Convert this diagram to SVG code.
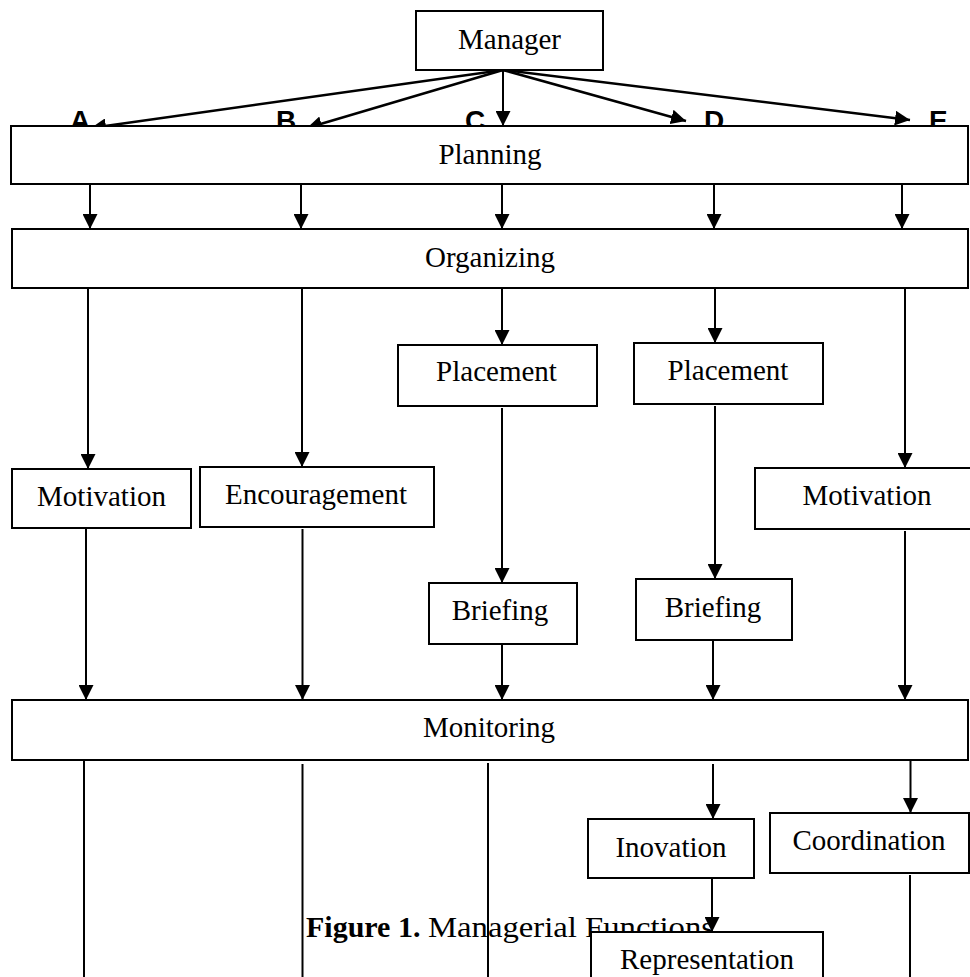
<svg xmlns="http://www.w3.org/2000/svg" width="970" height="977" viewBox="0 0 970 977">
<defs>
<marker id="ah" markerUnits="userSpaceOnUse" markerWidth="15" markerHeight="15" refX="15" refY="7.5" orient="auto">
<path d="M0,0 L15,7.5 L0,15 Z" fill="#000"/>
</marker>
<style>
.box{fill:#fff;stroke:#000;stroke-width:2}
.lbl{font-family:"Liberation Serif","Times New Roman",serif;font-size:29px;fill:#000;text-anchor:middle}
.let{font-family:"Liberation Sans",Arial,sans-serif;font-size:28px;font-weight:bold;fill:#000}
.c{stroke:#000;stroke-width:2;fill:none}
.a{stroke:#000;stroke-width:2;fill:none;marker-end:url(#ah)}
.d{stroke:#000;stroke-width:2.5;fill:none;marker-end:url(#ah)}
</style>
</defs>
<rect width="970" height="977" fill="#fff"/>
<g id="letters">
<text class="let" x="70" y="130">A</text>
<text class="let" x="276" y="130">B</text>
<text class="let" x="465" y="130">C</text>
<text class="let" x="704" y="130">D</text>
<text class="let" x="929" y="130">E</text>
</g>
<g id="caption">
<text x="306" y="937" font-family="'Liberation Serif','Times New Roman',serif" font-size="30" font-weight="bold" fill="#000">Figure 1.</text>
<text x="428" y="937" font-family="'Liberation Serif','Times New Roman',serif" font-size="30" fill="#000" textLength="286" lengthAdjust="spacingAndGlyphs">Managerial Functions</text>
</g>
<g id="connectors">
<line class="d" x1="503" y1="70" x2="91" y2="128"/>
<line class="d" x1="503" y1="70" x2="307" y2="128"/>
<line class="a" x1="503" y1="70" x2="503" y2="126"/>
<line class="d" x1="503" y1="70" x2="686" y2="121"/>
<line class="d" x1="503" y1="70" x2="910" y2="120"/>
<line class="a" x1="90" y1="184" x2="90" y2="229"/>
<line class="a" x1="301" y1="184" x2="301" y2="229"/>
<line class="a" x1="502" y1="184" x2="502" y2="229"/>
<line class="a" x1="714" y1="184" x2="714" y2="229"/>
<line class="a" x1="902" y1="184" x2="902" y2="229"/>
<line class="a" x1="88" y1="288" x2="88" y2="469"/>
<line class="a" x1="302" y1="288" x2="302" y2="467"/>
<line class="a" x1="502" y1="288" x2="502" y2="345"/>
<line class="a" x1="715" y1="288" x2="715" y2="343"/>
<line class="a" x1="905" y1="288" x2="905" y2="468"/>
<line class="a" x1="502" y1="408" x2="502" y2="583"/>
<line class="a" x1="715" y1="406" x2="715" y2="579"/>
<line class="a" x1="86" y1="529" x2="86" y2="700"/>
<line class="a" x1="302.5" y1="529" x2="302.5" y2="700"/>
<line class="a" x1="502" y1="644" x2="502" y2="700"/>
<line class="a" x1="713" y1="640" x2="713" y2="700"/>
<line class="a" x1="905" y1="531" x2="905" y2="700"/>
<line class="c" x1="84" y1="760" x2="84" y2="977"/>
<line class="c" x1="302.5" y1="764" x2="302.5" y2="977"/>
<line class="c" x1="488" y1="763" x2="488" y2="977"/>
<line class="a" x1="713" y1="764" x2="713" y2="819"/>
<line class="a" x1="910.5" y1="760" x2="910.5" y2="813"/>
<line class="a" x1="712" y1="876" x2="712" y2="932"/>
<line class="c" x1="910" y1="875" x2="910" y2="977"/>
</g>
<g id="manager"><rect class="box" x="416" y="11" width="187" height="59"/><text class="lbl" x="509.5" y="49">Manager</text></g>
<g id="planning"><rect class="box" x="11" y="126" width="957" height="58"/><text class="lbl" x="490" y="164">Planning</text></g>
<g id="organizing"><rect class="box" x="12" y="229" width="956" height="59"/><text class="lbl" x="490" y="267">Organizing</text></g>
<g id="placement-c"><rect class="box" x="398" y="345" width="199" height="61"/><text class="lbl" x="496.5" y="381">Placement</text></g>
<g id="placement-d"><rect class="box" x="634" y="343" width="189" height="61"/><text class="lbl" x="728" y="380">Placement</text></g>
<g id="motivation-a"><rect class="box" x="12" y="469" width="179" height="59"/><text class="lbl" x="101.5" y="506">Motivation</text></g>
<g id="encouragement"><rect class="box" x="200" y="467" width="234" height="60"/><text class="lbl" x="316" y="504">Encouragement</text></g>
<g id="motivation-e"><rect class="box" x="755" y="468" width="217" height="61"/><text class="lbl" x="867" y="505">Motivation</text></g>
<g id="briefing-c"><rect class="box" x="429" y="583" width="148" height="61"/><text class="lbl" x="500" y="620">Briefing</text></g>
<g id="briefing-d"><rect class="box" x="636" y="579" width="156" height="61"/><text class="lbl" x="713" y="617">Briefing</text></g>
<g id="monitoring"><rect class="box" x="12" y="700" width="956" height="60"/><text class="lbl" x="489" y="737">Monitoring</text></g>
<g id="inovation"><rect class="box" x="588" y="819" width="166" height="59"/><text class="lbl" x="671" y="857">Inovation</text></g>
<g id="coordination"><rect class="box" x="770" y="813" width="199" height="60"/><text class="lbl" x="869" y="850">Coordination</text></g>
<g id="representation"><rect class="box" x="591" y="932" width="232" height="60"/><text class="lbl" x="707" y="969">Representation</text></g>
</svg>
